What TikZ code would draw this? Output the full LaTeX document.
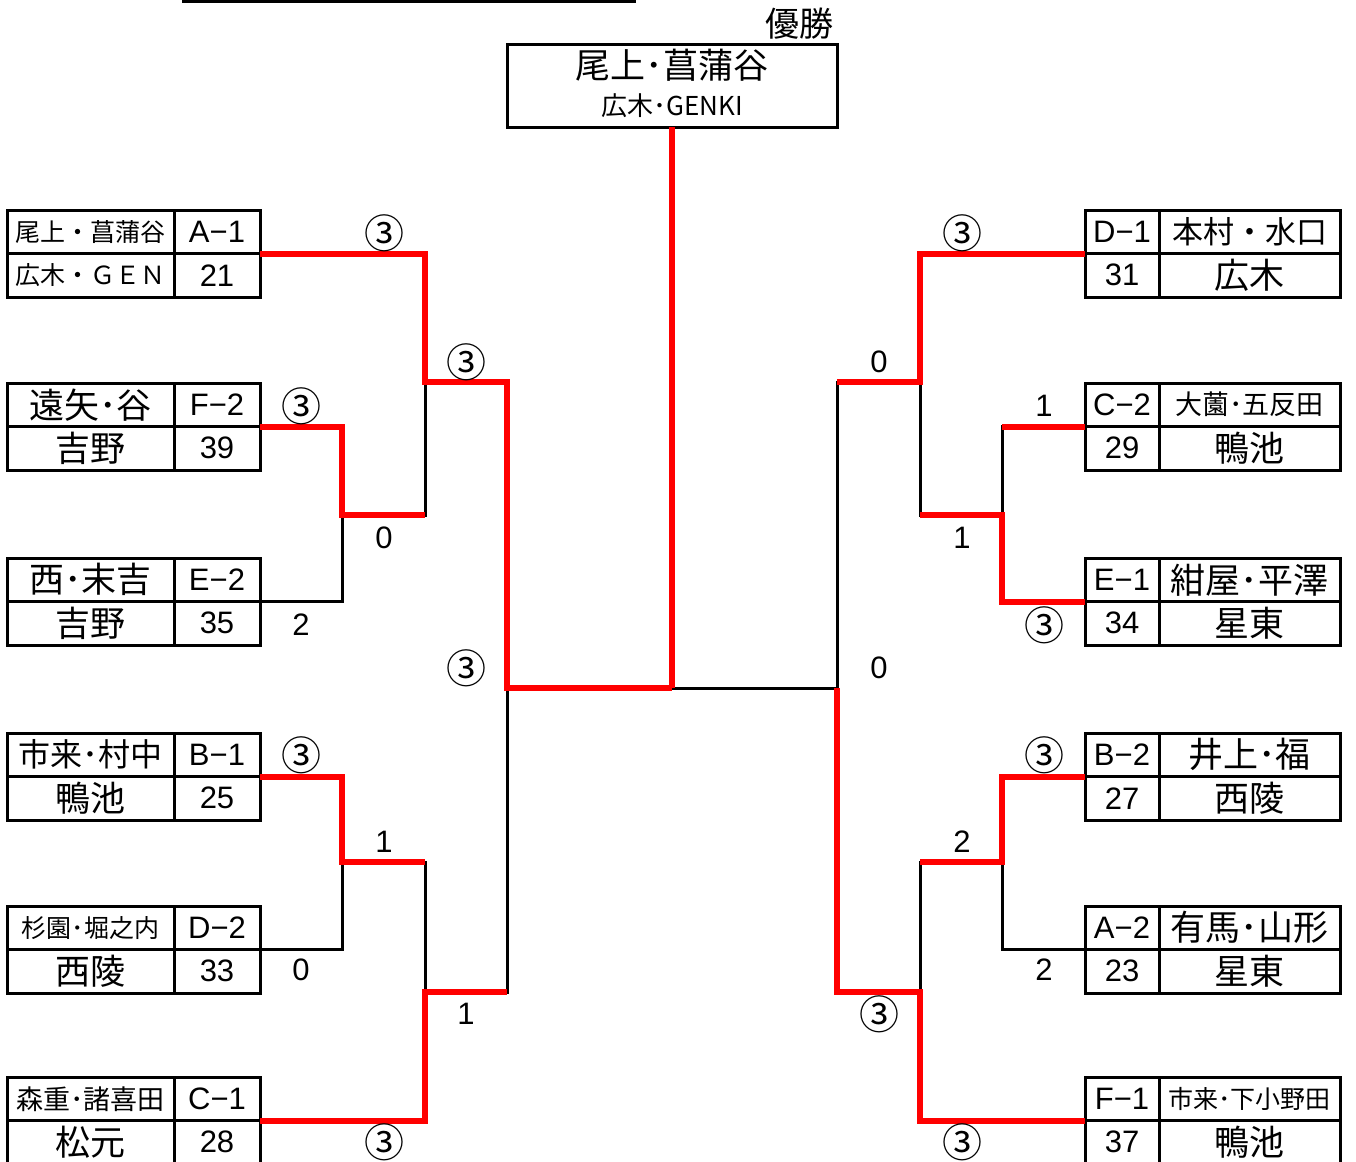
\documentclass[tikz,border=0pt]{standalone}
\usepackage{fontspec}
\setmainfont{Noto Sans CJK JP}
\newfontfamily\latin{Liberation Sans}
\usetikzlibrary{positioning}

\begin{document}
\begin{tikzpicture}[
    x=0.5pt, y=-0.5pt,
    cell/.style={rectangle, draw, line width=1.5pt, inner sep=0pt, outer sep=0pt,
                 minimum height=21.75pt, align=center},
    nmL/.style={cell, minimum width=83.5pt},
    nmR/.style={cell, minimum width=90.5pt},
    cdL/.style={cell, minimum width=43pt, font=\latin\fontsize{15.5}{16}\selectfont},
    cdR/.style={cell, minimum width=37pt, font=\latin\fontsize{15.5}{16}\selectfont},
    nbig/.style={font=\fontsize{17.5}{18}\selectfont},
    nmed/.style={font=\fontsize{13.5}{14}\selectfont},
    nsml/.style={font=\fontsize{12.5}{13}\selectfont},
    scr/.style={font=\latin\fontsize{15.5}{16}\selectfont, inner sep=0pt},
    cir/.style={font=\fontsize{20}{20}\selectfont, inner sep=0pt},
    win/.style={line width=3pt, color=red},
    lose/.style={line width=1.5pt},
]
\useasboundingbox (0,0) rectangle (1356,1162);

%% ── Title & champion ──────────────────────────────────────────────────────────
\coordinate (tl) at (182,1.5);
\coordinate (tr) at (636,1.5);
\draw[lose] (tl) -- (tr);

\node[font=\fontsize{17}{18}\selectfont, anchor=east, inner sep=0pt] (yusho) at (834,24) {優勝};
\node[cell, minimum width=165pt, minimum height=41.5pt] (champ) at (672,85.5) {};
\node[font=\fontsize{17.5}{18}\selectfont] (chn) at (672,65)  {尾上･菖蒲谷};
\node[font=\fontsize{13}{14}\selectfont]   (chs) at (672,106) {広木･GENKI};

%% ── Left side boxes ───────────────────────────────────────────────────────────
\node[nmL, nsml] at (90.5,231.75)   (Ln1) {尾上・菖蒲谷};
\node[cdL, right=0pt of Ln1]        (Lc1) {A−1};
\node[nmL, nsml, below=0pt of Ln1]  (Ls1) {広木・ＧＥＮ};
\node[cdL, below=0pt of Lc1]        (Lr1) {21};

\node[nmL, nbig] at (90.5,404.75)   (Ln2) {遠矢･谷};
\node[cdL, right=0pt of Ln2]        (Lc2) {F−2};
\node[nmL, nbig, below=0pt of Ln2]  (Ls2) {吉野};
\node[cdL, below=0pt of Lc2]        (Lr2) {39};

\node[nmL, nbig] at (90.5,579.75)   (Ln3) {西･末吉};
\node[cdL, right=0pt of Ln3]        (Lc3) {E−2};
\node[nmL, nbig, below=0pt of Ln3]  (Ls3) {吉野};
\node[cdL, below=0pt of Lc3]        (Lr3) {35};

\node[nmL, font=\fontsize{16}{17}\selectfont] at (90.5,754.75) (Ln4) {市来･村中};
\node[cdL, right=0pt of Ln4]        (Lc4) {B−1};
\node[nmL, nbig, below=0pt of Ln4]  (Ls4) {鴨池};
\node[cdL, below=0pt of Lc4]        (Lr4) {25};

\node[nmL, nsml] at (90.5,927.75)   (Ln5) {杉園･堀之内};
\node[cdL, right=0pt of Ln5]        (Lc5) {D−2};
\node[nmL, nbig, below=0pt of Ln5]  (Ls5) {西陵};
\node[cdL, below=0pt of Lc5]        (Lr5) {33};

\node[nmL, nmed] at (90.5,1098.75)  (Ln6) {森重･諸喜田};
\node[cdL, right=0pt of Ln6]        (Lc6) {C−1};
\node[nmL, nbig, below=0pt of Ln6]  (Ls6) {松元};
\node[cdL, below=0pt of Lc6]        (Lr6) {28};

%% ── Right side boxes ──────────────────────────────────────────────────────────
\node[cdR] at (1122,231.75)               (Rc1) {D−1};
\node[nmR, font=\fontsize{15.5}{16}\selectfont, right=0pt of Rc1] (Rn1) {本村・水口};
\node[cdR, below=0pt of Rc1]              (Rr1) {31};
\node[nmR, nbig, below=0pt of Rn1]        (Rs1) {広木};

\node[cdR] at (1122,404.75)               (Rc2) {C−2};
\node[nmR, nmed, right=0pt of Rc2]        (Rn2) {大薗･五反田};
\node[cdR, below=0pt of Rc2]              (Rr2) {29};
\node[nmR, nbig, below=0pt of Rn2]        (Rs2) {鴨池};

\node[cdR] at (1122,579.75)               (Rc3) {E−1};
\node[nmR, nbig, right=0pt of Rc3]        (Rn3) {紺屋･平澤};
\node[cdR, below=0pt of Rc3]              (Rr3) {34};
\node[nmR, nbig, below=0pt of Rn3]        (Rs3) {星東};

\node[cdR] at (1122,754.75)               (Rc4) {B−2};
\node[nmR, nbig, right=0pt of Rc4]        (Rn4) {井上･福};
\node[cdR, below=0pt of Rc4]              (Rr4) {27};
\node[nmR, nbig, below=0pt of Rn4]        (Rs4) {西陵};

\node[cdR] at (1122,927.75)               (Rc5) {A−2};
\node[nmR, nbig, right=0pt of Rc5]        (Rn5) {有馬･山形};
\node[cdR, below=0pt of Rc5]              (Rr5) {23};
\node[nmR, nbig, below=0pt of Rn5]        (Rs5) {星東};

\node[cdR] at (1122,1098.75)              (Rc6) {F−1};
\node[nmR, nsml, right=0pt of Rc6]        (Rn6) {市来･下小野田};
\node[cdR, below=0pt of Rc6]              (Rr6) {37};
\node[nmR, nbig, below=0pt of Rn6]        (Rs6) {鴨池};

%% ── Bracket junctions ─────────────────────────────────────────────────────────
\coordinate (jLa) at (342,515);
\coordinate (jLb) at (425,382);
\coordinate (jLc) at (342,862);
\coordinate (jLd) at (425,992);
\coordinate (jLe) at (507,688);
\coordinate (fin) at (672,688);
\coordinate (jRa) at (1002,515);
\coordinate (jRb) at (920,382);
\coordinate (jRc) at (1002,862);
\coordinate (jRd) at (920,992);
\coordinate (jRe) at (837,688);

% Full bracket (black)
\draw[lose] (Lc2.south east) -| (jLa) |- (Lc3.south east);
\draw[lose] (Lc1.south east) -| (jLb) |- (jLa);
\draw[lose] (Lc4.south east) -| (jLc) |- (Lc5.south east);
\draw[lose] (jLc) -| (jLd) |- (Lc6.south east);
\draw[lose] (jLb) -| (jLe) |- (jLd);
\draw[lose] (jLe) -- (fin) -- (jRe);
\draw[lose] (Rc2.south west) -| (jRa) |- (Rc3.south west);
\draw[lose] (Rc1.south west) -| (jRb) |- (jRa);
\draw[lose] (Rc4.south west) -| (jRc) |- (Rc5.south west);
\draw[lose] (jRc) -| (jRd) |- (Rc6.south west);
\draw[lose] (jRb) -| (jRe) |- (jRd);

% Winners (red)
\draw[win] (champ.south) -- (fin);
\draw[win] (Lc1.south east) -| (jLb) -| (jLe) -- (fin);
\draw[win] (Lc2.south east) -| (jLa) -- (jLa -| jLb);
\draw[win] (Lc4.south east) -| (jLc) -- (jLc -| jLd);
\draw[win] (Lc6.south east) -| (jLd) -- (jLd -| jLe);
\draw[win] (Rc1.south west) -| (jRb) -- (jRb -| jRe);
\draw[win] (Rc2.south west) -- (Rc2.south west -| jRa);
\draw[win] (Rc3.south west) -| (jRa) -- (jRa -| jRb);
\draw[win] (Rc4.south west) -| (jRc) -- (jRc -| jRd);
\draw[win] (Rc6.south west) -| (jRd) -| (jRe);

%% ── Scores ────────────────────────────────────────────────────────────────────
\node[cir] (sL1)  at (384,233)  {③};
\node[cir] (sL2)  at (466,362)  {③};
\node[cir] (sL3)  at (301,406)  {③};
\node[scr] (sL4)  at (384,538)  {0};
\node[scr] (sL5)  at (301,625)  {2};
\node[cir] (sL6)  at (466,668)  {③};
\node[cir] (sL7)  at (301,755)  {③};
\node[scr] (sL8)  at (384,842)  {1};
\node[scr] (sL9)  at (301,970)  {0};
\node[scr] (sL10) at (466,1014) {1};
\node[cir] (sL11) at (384,1142) {③};

\node[cir] (sR1)  at (962,233)  {③};
\node[scr] (sR2)  at (879,362)  {0};
\node[scr] (sR3)  at (1044,406) {1};
\node[scr] (sR4)  at (962,538)  {1};
\node[cir] (sR5)  at (1044,625) {③};
\node[scr] (sR6)  at (879,668)  {0};
\node[cir] (sR7)  at (1044,755) {③};
\node[scr] (sR8)  at (962,842)  {2};
\node[scr] (sR9)  at (1044,970) {2};
\node[cir] (sR10) at (879,1014) {③};
\node[cir] (sR11) at (962,1142) {③};

\end{tikzpicture}
\end{document}
